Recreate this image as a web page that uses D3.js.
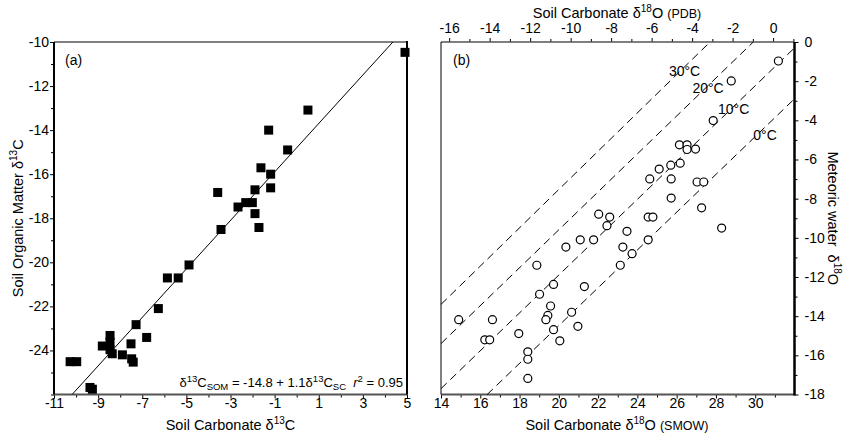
<html>
<head>
<script src="https://d3js.org/d3.v7.min.js"></script>
<style>
  body { margin: 0; background: #fff; }
  text { font-family: "Liberation Sans", Arial, Helvetica, sans-serif; fill: #000; }
</style>
</head>
<body>
<svg id="chart" width="844" height="438"></svg>
<script>
// panel (a): soil carbonate d13C vs soil organic matter d13C
var carbonateC13 = [4.91, 0.51, -1.27, -0.41, -1.62, -1.18, -1.18, -3.58, -1.89, -2.66, -2.31, -2.01, -1.89,
  -1.71, -3.43, -4.88, -5.86, -5.37, -6.27, -7.28, -6.8, -8.46, -8.46, -8.81, -7.51, -8.46, -8.36,
  -7.9, -7.48, -7.41, -10.27, -9.97, -9.37, -9.26];
var organicC13 = [-10.47, -13.09, -14.0, -14.9, -15.71, -16.0, -16.62, -16.83, -16.71, -17.49, -17.29, -17.29, -17.79,
  -18.42, -18.51, -20.12, -20.71, -20.71, -22.1, -22.83, -23.41, -23.32, -23.62, -23.8, -23.7, -23.97, -24.15,
  -24.2, -24.38, -24.53, -24.51, -24.51, -25.68, -25.76];
// regression line end points (carbonate, organic)
var fitLine = [[-10.18, -26], [4.36, -10]];

// panel (b): soil carbonate d18O (SMOW) vs meteoric water d18O
var carbonateO18 = [31.18, 28.78, 27.86, 26.14, 26.53, 26.53, 26.96, 26.18, 25.7, 25.11, 24.63, 25.72, 27.04, 27.38,
  25.72, 27.27, 22.03, 22.59, 24.55, 24.79, 28.29, 22.45, 23.47, 21.09, 21.77, 24.55, 20.36, 23.26, 23.73,
  18.88, 23.13, 19.73, 21.3, 19.02, 19.58, 20.65, 19.44, 19.34, 14.9, 16.62, 20.97, 19.73, 17.96, 16.23,
  16.48, 20.05, 18.42, 18.42, 18.42];
var waterO18 = [-0.97, -1.99, -4.01, -5.25, -5.25, -5.49, -5.47, -6.19, -6.29, -6.49, -6.99, -6.99, -7.15, -7.15,
  -7.97, -8.47, -8.79, -8.94, -8.94, -8.94, -9.5, -9.38, -9.67, -10.1, -10.1, -10.1, -10.47, -10.47, -10.81,
  -11.4, -11.4, -12.38, -12.49, -12.88, -13.48, -13.8, -13.96, -14.18, -14.18, -14.18, -14.52, -14.69, -14.89, -15.21,
  -15.21, -15.26, -15.82, -16.2, -17.18];
// isotherms: start and end (SMOW, water) and label anchor
var isoNames = ["30°C", "20°C", "10°C", "0°C"];
var isoStart = [[14, -13.4], [14, -15.4], [14, -17.7], [16.35, -18]];
var isoEnd = [[27.7, 0], [29.9, 0], [32, -0.3], [32, -2.9]];
var isoLabelAt = [[26.4, -1.5], [27.6, -2.35], [28.9, -3.43], [30.5, -4.75]];

// tick values
var aXMajor = [-11, -9, -7, -5, -3, -1, 1, 3, 5];
var aXMinor = [-10, -8, -6, -4, -2, 0, 2, 4];
var aYMajor = [-10, -12, -14, -16, -18, -20, -22, -24];
var aYMinor = [-11, -13, -15, -17, -19, -21, -23, -25, -26];
var bXMajor = [14, 16, 18, 20, 22, 24, 26, 28, 30];
var bXMinor = [15, 17, 19, 21, 23, 25, 27, 29, 31];
var bTopMajor = [-16, -14, -12, -10, -8, -6, -4, -2, 0];
var bTopMinor = [-15, -13, -11, -9, -7, -5, -3, -1, 1];
var bYMajor = [0, -2, -4, -6, -8, -10, -12, -14, -16, -18];
var bYMinor = [-1, -3, -5, -7, -9, -11, -13, -15, -17];

var svg = d3.select("#chart");
var top0 = 42, bottom0 = 394.5;

var xa = d3.scaleLinear().domain([-11, 5]).range([54, 407]);
var ya = d3.scaleLinear().domain([-26, -10]).range([bottom0, top0]);
var xb = d3.scaleLinear().domain([14, 32]).range([441, 794.5]);
var yb = d3.scaleLinear().domain([-18, 0]).range([bottom0, top0]);
// PDB = (SMOW - 30.91) / 1.03091
var xbPdb = d3.scaleLinear()
  .domain(xb.domain().map(function (v) { return (v - 30.91) / 1.03091; }))
  .range(xb.range());

function drawAxis(orient, scale, major, minor, pad) {
  var mk = { left: d3.axisLeft, right: d3.axisRight, top: d3.axisTop, bottom: d3.axisBottom }[orient];
  var g = svg.append("g");
  g.call(mk(scale).tickValues(major).tickSize(4).tickPadding(pad).tickFormat(function (d) { return String(d); }));
  g.append("g").call(mk(scale).tickValues(minor).tickSize(3).tickFormat(""));
  g.selectAll(".domain").remove();
  g.attr("font-family", null).attr("font-size", null);
  g.selectAll("line").attr("stroke", "#000").attr("stroke-width", 1);
  g.selectAll("text").attr("font-size", 14).attr("fill", "#000");
  return g;
}

// ---- panel (a) ----
drawAxis("left", ya, aYMajor, aYMinor, 1).attr("transform", "translate(" + xa.range()[0] + ",0)");
var gaB = drawAxis("bottom", xa, aXMajor, aXMinor, 0).attr("transform", "translate(0," + bottom0 + ")");
gaB.selectAll(".tick text").attr("y", 13).attr("dy", 0);

svg.append("line").attr("x1", xa(-11)).attr("x2", xa(5)).attr("y1", top0).attr("y2", top0)
  .attr("stroke", "#555").attr("stroke-width", 1.3);
svg.append("line").attr("x1", xa(-11)).attr("x2", xa(5)).attr("y1", bottom0).attr("y2", bottom0)
  .attr("stroke", "#555").attr("stroke-width", 2);
svg.append("line").attr("x1", xa(-11)).attr("x2", xa(-11)).attr("y1", top0).attr("y2", bottom0)
  .attr("stroke", "#000").attr("stroke-width", 2);
svg.append("line").attr("x1", xa(5)).attr("x2", xa(5)).attr("y1", top0 - 1).attr("y2", bottom0)
  .attr("stroke", "#000").attr("stroke-width", 2);

svg.append("line")
  .attr("x1", xa(fitLine[0][0])).attr("y1", ya(fitLine[0][1]))
  .attr("x2", xa(fitLine[1][0])).attr("y2", ya(fitLine[1][1]))
  .attr("stroke", "#000").attr("stroke-width", 1);

var sq = 9;
svg.append("g").selectAll("rect")
  .data(carbonateC13)
  .enter()
  .append("rect")
  .attr("x", function (d) { return xa(d) - sq / 2; })
  .attr("y", function (d, i) { return ya(organicC13[i]) - sq / 2; })
  .attr("width", sq)
  .attr("height", sq)
  .attr("fill", "#000");

svg.append("text").attr("x", 65).attr("y", 65).attr("font-size", 14).text("(a)");

var eq = svg.append("text").attr("x", 403).attr("y", 387).attr("font-size", 13).attr("text-anchor", "end");
eq.append("tspan").text("δ");
eq.append("tspan").attr("font-size", 9.5).attr("dy", -5).text("13");
eq.append("tspan").attr("dy", 5).text("C");
eq.append("tspan").attr("font-size", 9.5).attr("dy", 3).text("SOM");
eq.append("tspan").attr("dy", -3).text(" = -14.8 + 1.1δ");
eq.append("tspan").attr("font-size", 9.5).attr("dy", -5).text("13");
eq.append("tspan").attr("dy", 5).text("C");
eq.append("tspan").attr("font-size", 9.5).attr("dy", 3).text("SC");
eq.append("tspan").attr("dy", -3).attr("font-style", "italic").text("\u00a0\u00a0r");
eq.append("tspan").attr("font-size", 9.5).attr("dy", -5).text("2");
eq.append("tspan").attr("dy", 5).text(" = 0.95");

var tA = svg.append("text").attr("x", (xa(-11) + xa(5)) / 2).attr("y", 430)
  .attr("font-size", 14.5).attr("text-anchor", "middle");
tA.append("tspan").text("Soil Carbonate δ");
tA.append("tspan").attr("font-size", 10).attr("dy", -6).text("13");
tA.append("tspan").attr("dy", 6).text("C");

var tAy = svg.append("text").attr("transform", "translate(23," + (top0 + bottom0) / 2 + ") rotate(-90)")
  .attr("font-size", 14.5).attr("text-anchor", "middle");
tAy.append("tspan").text("Soil Organic Matter δ");
tAy.append("tspan").attr("font-size", 10).attr("dy", -6).text("13");
tAy.append("tspan").attr("dy", 6).text("C");

// ---- panel (b) ----
var gbB = drawAxis("bottom", xb, bXMajor, bXMinor, 0).attr("transform", "translate(0," + bottom0 + ")");
gbB.selectAll(".tick text").attr("y", 13).attr("dy", 0);
drawAxis("top", xbPdb, bTopMajor, bTopMinor, 5).attr("transform", "translate(0," + top0 + ")");
drawAxis("right", yb, bYMajor, bYMinor, 6).attr("transform", "translate(" + xb.range()[1] + ",0)");

svg.append("line").attr("x1", xb.range()[0]).attr("x2", xb.range()[1]).attr("y1", top0).attr("y2", top0)
  .attr("stroke", "#555").attr("stroke-width", 1.5);
svg.append("line").attr("x1", xb.range()[0]).attr("x2", xb.range()[1]).attr("y1", bottom0).attr("y2", bottom0)
  .attr("stroke", "#555").attr("stroke-width", 2);
svg.append("line").attr("x1", xb.range()[0]).attr("x2", xb.range()[0]).attr("y1", top0).attr("y2", bottom0)
  .attr("stroke", "#000").attr("stroke-width", 1);
svg.append("line").attr("x1", xb.range()[1]).attr("x2", xb.range()[1]).attr("y1", top0).attr("y2", bottom0 + 1)
  .attr("stroke", "#000").attr("stroke-width", 2.5);

svg.append("g").selectAll("line")
  .data(isoNames)
  .enter()
  .append("line")
  .attr("x1", function (d, i) { return xb(isoStart[i][0]); })
  .attr("y1", function (d, i) { return yb(isoStart[i][1]); })
  .attr("x2", function (d, i) { return xb(isoEnd[i][0]); })
  .attr("y2", function (d, i) { return yb(isoEnd[i][1]); })
  .attr("stroke", "#000")
  .attr("stroke-width", 1)
  .attr("stroke-dasharray", "8,5");

svg.append("g").selectAll("text")
  .data(isoNames)
  .enter()
  .append("text")
  .attr("x", function (d, i) { return xb(isoLabelAt[i][0]); })
  .attr("y", function (d, i) { return yb(isoLabelAt[i][1]); })
  .attr("dy", "0.35em")
  .attr("text-anchor", "middle")
  .attr("font-size", 14)
  .text(function (d) { return d; });

svg.append("g").selectAll("circle")
  .data(carbonateO18)
  .enter()
  .append("circle")
  .attr("cx", function (d) { return xb(d); })
  .attr("cy", function (d, i) { return yb(waterO18[i]); })
  .attr("r", 4)
  .attr("fill", "#fff")
  .attr("stroke", "#000")
  .attr("stroke-width", 1.2);

svg.append("text").attr("x", 453).attr("y", 65).attr("font-size", 14).text("(b)");

var tB = svg.append("text").attr("x", 617).attr("y", 430).attr("font-size", 14.5).attr("text-anchor", "middle");
tB.append("tspan").text("Soil Carbonate δ");
tB.append("tspan").attr("font-size", 10).attr("dy", -6).text("18");
tB.append("tspan").attr("dy", 6).text("O ");
tB.append("tspan").attr("font-size", 12.5).text("(SMOW)");

var tBt = svg.append("text").attr("x", 617).attr("y", 18).attr("font-size", 14.5).attr("text-anchor", "middle");
tBt.append("tspan").text("Soil Carbonate δ");
tBt.append("tspan").attr("font-size", 10).attr("dy", -6).text("18");
tBt.append("tspan").attr("dy", 6).text("O ");
tBt.append("tspan").attr("font-size", 12.5).text("(PDB)");

var tBy = svg.append("text").attr("transform", "translate(828," + (top0 + bottom0) / 2 + ") rotate(90)")
  .attr("font-size", 14.5).attr("text-anchor", "middle");
tBy.append("tspan").text("Meteoric water\u00a0\u00a0δ");
tBy.append("tspan").attr("font-size", 10).attr("dy", -6).text("18");
tBy.append("tspan").attr("dy", 6).text("O");
</script>
</body>
</html>
